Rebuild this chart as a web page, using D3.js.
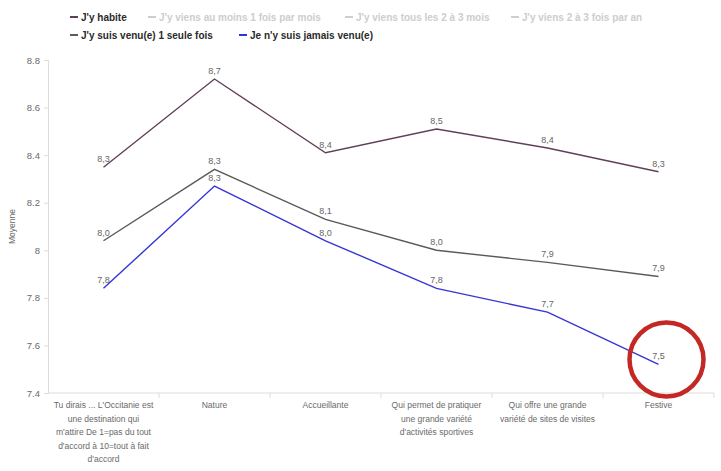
<!DOCTYPE html>
<html>
<head>
<meta charset="utf-8">
<script src="https://cdn.jsdelivr.net/npm/d3@7"></script>
<style>
  body { margin: 0; background: #fff; }
  svg { display: block; font-family: 'Liberation Sans', Arial, sans-serif; }
</style>
</head>
<body>
<div class="chart"></div>
<script>
const width = 721
const height = 471
const margin = { top: 60, right: 7, bottom: 78, left: 48 }

// categories (line breaks as in the picture)
const categories = [
  "Tu dirais ... L'Occitanie est\nune destination qui\nm'attire De 1=pas du tout\nd'accord à 10=tout à fait\nd'accord",
  'Nature',
  'Accueillante',
  'Qui permet de pratiquer\nune grande variété\nd\'activités sportives',
  'Qui offre une grande\nvariété de sites de visites',
  'Festive'
]

const yTicks = [7.4, 7.6, 7.8, 8, 8.2, 8.4, 8.6, 8.8]

const habite = [8.349, 8.72, 8.41, 8.51, 8.43, 8.33]
const uneFois = [8.04, 8.34, 8.13, 8.0, 7.949, 7.89]
const jamais = [7.84, 8.27, 8.04, 7.84, 7.74, 7.52]

const legendRow1 = [
  { name: "J'y habite", active: true, x: 70 },
  { name: "J'y viens au moins 1 fois par mois", active: false, x: 148 },
  { name: "J'y viens tous les 2 à 3 mois", active: false, x: 345 },
  { name: "J'y viens 2 à 3 fois par an", active: false, x: 511 }
]
const legendRow2 = [
  { name: "J'y suis venu(e) 1 seule fois", active: true, x: 70 },
  { name: "Je n'y suis jamais venu(e)", active: true, x: 239 }
]

const theme = {
  habite: '#604058',
  uneFois: '#5a5a5a',
  jamais: '#3535d6',
  axis: '#dcdcdc',
  tickText: '#6a6a6a',
  label: '#666',
  hidden: '#cdcdcd',
  legendText: '#2a2a2a',
  circle: '#c42824'
}

const series = [
  { key: 'habite', values: habite, color: theme.habite },
  { key: 'uneFois', values: uneFois, color: theme.uneFois },
  { key: 'jamais', values: jamais, color: theme.jamais }
]

const svg = d3.select('.chart')
  .append('svg')
  .attr('width', width)
  .attr('height', height)

const x = d3.scaleBand()
  .domain(categories)
  .range([margin.left, width - margin.right])

const y = d3.scaleLinear()
  .domain([7.4, 8.8])
  .range([height - margin.bottom, margin.top])

const cx = c => x(c) + x.bandwidth() / 2

// y axis
const yAxis = svg.append('g')
  .attr('transform', `translate(${margin.left},0)`)
  .call(d3.axisLeft(y).tickValues(yTicks).tickSize(4).tickPadding(4).tickFormat(d3.format('~g')))
yAxis.select('.domain').attr('stroke', theme.axis)
yAxis.selectAll('.tick line').attr('stroke', theme.axis)
yAxis.selectAll('.tick text').attr('fill', theme.tickText).style('font-size', '9.5px')

svg.append('text')
  .attr('transform', `translate(15,${(margin.top + height - margin.bottom) / 2}) rotate(-90)`)
  .attr('text-anchor', 'middle')
  .attr('fill', theme.tickText)
  .style('font-size', '8.5px')
  .text('Moyenne')

// x axis: baseline with boundary ticks
const base = y.range()[0]
svg.append('line')
  .attr('x1', margin.left).attr('x2', width - margin.right)
  .attr('y1', base).attr('y2', base)
  .attr('stroke', theme.axis)

const bounds = categories.slice(1).map(c => x(c)).concat([width - margin.right])
svg.append('g').selectAll('line')
  .data(bounds)
  .join('line')
  .attr('x1', d => d).attr('x2', d => d)
  .attr('y1', base).attr('y2', base + 5)
  .attr('stroke', theme.axis)

svg.append('g').selectAll('text')
  .data(categories)
  .join('text')
  .attr('text-anchor', 'middle')
  .attr('fill', theme.tickText)
  .style('font-size', '8.5px')
  .each(function(c) {
    d3.select(this).selectAll('tspan')
      .data(c.split('\n'))
      .join('tspan')
      .attr('x', cx(c))
      .attr('y', (d, i) => base + 15 + i * 13.5)
      .text(d => d)
  })

// lines
const line = d3.line()
  .x((d, i) => cx(categories[i]))
  .y(d => y(d))

const fmt = v => d3.format('.1f')(v).replace('.', ',')

series.forEach(s => {
  svg.append('path')
    .datum(s.values)
    .attr('fill', 'none')
    .attr('stroke', s.color)
    .attr('stroke-width', 1.4)
    .attr('d', line)

  svg.append('g').selectAll('text')
    .data(s.values)
    .join('text')
    .attr('x', (d, i) => cx(categories[i]))
    .attr('y', d => y(d) - 5)
    .attr('text-anchor', 'middle')
    .attr('fill', theme.label)
    .style('font-size', '9px')
    .text(d => fmt(d))
})

// legend
function drawLegend(items, yPos, colors) {
  items.forEach((it, i) => {
    const g = svg.append('g').attr('transform', `translate(${it.x},${yPos})`)
    g.append('line')
      .attr('x1', 0).attr('x2', 8)
      .attr('y1', 0).attr('y2', 0)
      .attr('stroke', it.active ? colors[i] : theme.hidden)
      .attr('stroke-width', 2)
    g.append('text')
      .attr('x', 11)
      .attr('y', 3.5)
      .attr('fill', it.active ? theme.legendText : theme.hidden)
      .style('font-size', '10px')
      .style('font-weight', 'bold')
      .text(it.name)
  })
}
drawLegend(legendRow1, 17, [theme.habite])
drawLegend(legendRow2, 35, [theme.uneFois, theme.jamais])

// red annotation circle round the last point of the blue line
const last = categories.length - 1
svg.append('circle')
  .attr('cx', cx(categories[last]) + 8)
  .attr('cy', y(jamais[last]) - 5)
  .attr('r', 37)
  .attr('fill', 'none')
  .attr('stroke', theme.circle)
  .attr('stroke-width', 4.5)
</script>
</body>
</html>
